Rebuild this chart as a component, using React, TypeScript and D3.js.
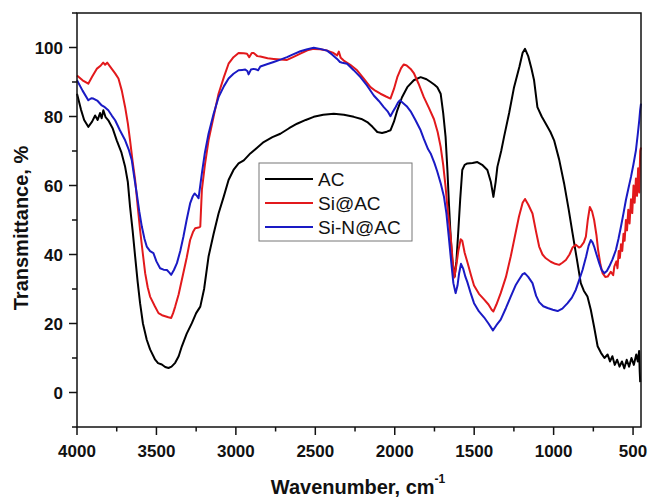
import React from "react";
import * as d3 from "d3";

// FTIR spectra, [wavenumber cm-1, transmittance %]
const acData: [number, number][] = [
  [4000, 86.6], [3975, 82], [3955, 79], [3929, 77], [3905, 78.5], [3886, 80.3], [3870, 79], [3855, 81],
  [3845, 79.5], [3834, 81.8], [3820, 79.8], [3803, 78.9], [3775, 76.5], [3750, 73.1], [3720, 69.5],
  [3697, 65.4], [3680, 61], [3666, 53.8], [3650, 47], [3634, 39.4], [3618, 32], [3603, 25.9], [3585, 20],
  [3561, 15.3], [3540, 12.5], [3508, 9.5], [3490, 8.5], [3466, 8.1], [3445, 7.4], [3424, 7.1], [3405, 7.5],
  [3382, 8.6], [3360, 10.5], [3340, 13.4], [3310, 17], [3277, 20.1], [3250, 23], [3224, 24.9], [3200, 30],
  [3172, 39.4], [3140, 46], [3109, 51.9], [3075, 57], [3046, 61.6], [3015, 64.5], [2983, 66.4],
  [2950, 67.3], [2909, 69.3], [2870, 70.8], [2825, 72.6], [2770, 74], [2720, 75], [2665, 76.6],
  [2615, 77.9], [2560, 79], [2510, 79.9], [2450, 80.5], [2384, 80.8], [2320, 80.5], [2258, 79.9],
  [2210, 79.3], [2173, 78.4], [2140, 77], [2110, 75.5], [2080, 75.2], [2050, 75.6], [2027, 76],
  [2005, 78.5], [1984, 81.8], [1955, 85.5], [1921, 88.5], [1880, 90.5], [1837, 91.4], [1800, 90.8],
  [1774, 90], [1750, 89.2], [1732, 88.5], [1711, 86.6], [1695, 81], [1680, 74.1], [1668, 64], [1659, 54.8],
  [1648, 45], [1638, 38.4], [1623, 33.6], [1612, 38], [1602, 45.2], [1588, 56], [1575, 64.5],
  [1560, 66], [1543, 66.4], [1510, 66.5], [1480, 66.8], [1450, 66], [1417, 64.5], [1395, 61],
  [1379, 56.7], [1365, 61], [1354, 65.4], [1330, 70], [1312, 74.1], [1280, 81], [1249, 88.5],
  [1215, 94.5], [1195, 98.5], [1180, 99.6], [1160, 97.5], [1140, 94], [1123, 90.5], [1102, 82.7],
  [1075, 80], [1050, 78], [1020, 75.5], [997, 73.1], [965, 67.5], [934, 60.6], [905, 53], [881, 46.2],
  [855, 39], [829, 31.7], [810, 29.5], [787, 27.8], [766, 24], [745, 19], [723, 13.4], [702, 11.5],
  [680, 10], [660, 11], [645, 9], [630, 10.5], [615, 8], [600, 9.5], [585, 7.5], [570, 9], [555, 7],
  [540, 9.5], [525, 7.5], [510, 10], [495, 8], [480, 11], [470, 9], [462, 12], [458, 6], [455, 3],
];

const siAcData: [number, number][] = [
  [4000, 91.9], [3965, 90.5], [3929, 89.5], [3905, 91.5], [3876, 93.8], [3850, 94.8], [3835, 95.6],
  [3823, 95], [3810, 95.6], [3781, 93.8], [3760, 92.5], [3739, 91], [3718, 87.5], [3697, 82.7],
  [3680, 78], [3666, 73.1], [3650, 67], [3634, 61.6], [3618, 54], [3603, 47.1], [3585, 40],
  [3571, 34.6], [3555, 30.5], [3540, 27.8], [3510, 25], [3487, 23], [3465, 22.4], [3445, 22.1],
  [3425, 21.8], [3407, 21.6], [3395, 23], [3382, 24.9], [3360, 28.5], [3340, 32.7], [3310, 39],
  [3288, 44.2], [3270, 46.5], [3256, 47.6], [3235, 47.8], [3224, 48.1], [3214, 58.7], [3195, 66],
  [3172, 73.1], [3140, 80], [3109, 86.6], [3075, 91.5], [3046, 95.3], [3015, 97.2], [2983, 98.4],
  [2950, 98.3], [2930, 98.2], [2916, 97.2], [2900, 98.4], [2888, 98.4], [2865, 97.5], [2846, 97.4],
  [2800, 96.9], [2762, 96.7], [2720, 96.5], [2678, 96.4], [2640, 97.2], [2594, 98.2], [2550, 99.2],
  [2510, 99.6], [2470, 99.5], [2426, 99.1], [2390, 98.5], [2363, 97.7], [2352, 98.8], [2340, 97],
  [2321, 96.2], [2280, 95], [2237, 93.4], [2195, 91], [2153, 88.5], [2120, 87.4], [2090, 86.6],
  [2055, 85.8], [2027, 85.2], [2005, 88], [1984, 91.4], [1960, 94], [1943, 95.1], [1925, 94.8],
  [1900, 93.8], [1880, 92.6], [1850, 89.5], [1817, 85.6], [1785, 82.5], [1753, 79.2], [1730, 75.5],
  [1711, 71.2], [1695, 66], [1680, 59.6], [1665, 52], [1648, 45.2], [1635, 38], [1625, 33.3],
  [1612, 37], [1600, 41], [1585, 44.4], [1575, 44], [1560, 40.5], [1543, 37.8], [1520, 34], [1501, 31],
  [1470, 28.6], [1438, 27], [1410, 25.5], [1390, 24], [1379, 23.5], [1360, 25.5], [1333, 28.8],
  [1300, 33.5], [1270, 39.4], [1245, 45], [1218, 51], [1195, 55], [1180, 56.1], [1160, 54.5],
  [1133, 51.9], [1110, 46.5], [1091, 42.3], [1070, 40], [1049, 38.9], [1018, 37.9], [990, 37.3],
  [965, 37], [945, 37.6], [923, 38.4], [900, 40], [881, 42], [860, 42.8], [840, 42], [829, 42.3],
  [810, 43.5], [797, 45.2], [785, 50], [772, 53.8], [758, 52.5], [745, 50], [730, 45.5], [720, 41.3],
  [705, 37], [692, 34.6], [675, 33.5], [660, 33.6], [640, 35], [625, 34], [618, 36.5], [605, 38],
  [598, 36], [590, 41], [583, 39], [576, 43], [568, 41], [560, 46], [553, 44], [545, 50], [538, 47],
  [530, 53], [522, 49], [513, 56], [505, 52], [497, 60], [490, 55], [482, 62], [475, 57], [468, 65],
  [461, 58], [455, 70], [450, 71],
];

const siNAcData: [number, number][] = [
  [4000, 90.5], [3965, 87.5], [3929, 84.7], [3910, 85.3], [3897, 85.2], [3870, 84.5], [3844, 83.2],
  [3825, 82.7], [3803, 81.8], [3780, 80.2], [3760, 78.9], [3730, 76], [3697, 73.1], [3675, 70.5],
  [3655, 67.3], [3640, 62.5], [3624, 57.7], [3608, 52.5], [3592, 48.1], [3575, 44.5], [3561, 42.3],
  [3540, 41], [3519, 40.4], [3500, 38], [3477, 36], [3455, 35.6], [3434, 35.5], [3420, 34.8],
  [3407, 34.1], [3390, 35.5], [3371, 37.5], [3350, 41], [3330, 45.2], [3310, 50], [3288, 54.8],
  [3272, 56.8], [3260, 57.7], [3245, 57], [3235, 56.3], [3214, 63.5], [3195, 69.5], [3172, 75],
  [3140, 80.8], [3109, 85.6], [3075, 88.8], [3046, 91], [3015, 92.4], [2983, 93.4], [2960, 93.5],
  [2941, 93.6], [2928, 93.2], [2920, 92.2], [2905, 93.6], [2888, 93.8], [2870, 93.6], [2860, 93.4],
  [2846, 94.5], [2800, 95.2], [2762, 95.8], [2720, 96.5], [2678, 97.2], [2640, 98], [2594, 98.9],
  [2550, 99.5], [2510, 99.9], [2470, 99.6], [2426, 99.1], [2395, 98], [2363, 96.7], [2345, 95.8],
  [2330, 95.6], [2300, 95.3], [2260, 93.5], [2216, 91.4], [2175, 89], [2132, 86.1], [2100, 84.5],
  [2069, 82.7], [2045, 81.5], [2027, 80.1], [2010, 81.5], [1995, 82.7], [1980, 84], [1968, 84.7],
  [1950, 84], [1925, 83], [1900, 81.5], [1870, 79], [1837, 76], [1817, 73.5], [1790, 70.5],
  [1774, 69.3], [1750, 66.5], [1732, 64], [1710, 60.5], [1690, 56.7], [1675, 52], [1660, 45.2],
  [1645, 38], [1631, 31.7], [1617, 28.8], [1605, 31], [1595, 34.5], [1583, 37.3], [1570, 36],
  [1555, 33.5], [1543, 32], [1520, 28.5], [1501, 25.9], [1470, 23.5], [1438, 21.8], [1410, 20],
  [1382, 18], [1360, 19.5], [1333, 21.1], [1300, 24.5], [1270, 27.8], [1240, 31], [1218, 32.7],
  [1195, 34.3], [1182, 34.6], [1160, 33.5], [1133, 31.7], [1110, 28], [1091, 26.2], [1065, 25],
  [1038, 24.5], [1005, 24], [975, 23.6], [945, 24.3], [912, 25.9], [885, 27.5], [860, 29.8],
  [840, 32.5], [818, 35.5], [795, 39.5], [780, 42.5], [766, 44.2], [755, 43.5], [745, 42.3],
  [730, 40], [713, 37.5], [698, 35.5], [681, 34.6], [665, 35.2], [650, 36.5], [630, 38.5],
  [608, 41.3], [592, 44.5], [576, 48.1], [560, 52], [545, 55.8], [530, 59], [513, 62.5], [498, 66],
  [482, 70.2], [470, 75], [461, 78.9], [455, 82], [450, 83.7],
];

const series = [
  { name: "AC", color: "#000000", data: acData },
  { name: "Si@AC", color: "#e2191c", data: siAcData },
  { name: "Si-N@AC", color: "#1a1ac4", data: siNAcData },
];

const xMajor = [4000, 3500, 3000, 2500, 2000, 1500, 1000, 500];
const xMinor = [3750, 3250, 2750, 2250, 1750, 1250, 750];
const yMajor = [0, 20, 40, 60, 80, 100];
const yMinor = [-10, 10, 30, 50, 70, 90, 110];

const App = () => {
  const width = 649;
  const height = 497;
  const left = 77;
  const right = 641;
  const top = 13;
  const bottom = 427;

  const x = d3.scaleLinear().domain([4000, 450]).range([left, right]);
  const y = d3.scaleLinear().domain([-10, 110]).range([bottom, top]);

  const line = d3
    .line<[number, number]>()
    .x((d) => x(d[0]))
    .y((d) => y(d[1]))
    .curve(d3.curveLinear);

  const font = "'Liberation Sans', Arial, sans-serif";

  return (
    <svg
      width={width}
      height={height}
      style={{ position: "absolute", left: 0, top: 0, background: "#fff" }}
      fontFamily={font}
    >
      {/* curves */}
      <g fill="none" strokeWidth={2} strokeLinejoin="round">
        {series.map((s) => (
          <path key={s.name} d={line(s.data) || ""} stroke={s.color} />
        ))}
      </g>

      {/* frame */}
      <rect
        x={left}
        y={top}
        width={right - left}
        height={bottom - top}
        fill="none"
        stroke="#111"
        strokeWidth={1.5}
      />

      {/* x ticks */}
      {xMajor.map((t) => (
        <g key={"xM" + t}>
          <line x1={x(t)} x2={x(t)} y1={bottom} y2={bottom + 8} stroke="#111" strokeWidth={1.5} />
          <text x={x(t)} y={457} textAnchor="middle" fontSize={17} fontWeight="bold" fill="#111">
            {t}
          </text>
        </g>
      ))}
      {xMinor.map((t) => (
        <line key={"xm" + t} x1={x(t)} x2={x(t)} y1={bottom} y2={bottom + 4.5} stroke="#111" strokeWidth={1.5} />
      ))}

      {/* y ticks */}
      {yMajor.map((t) => (
        <g key={"yM" + t}>
          <line x1={left - 8} x2={left} y1={y(t)} y2={y(t)} stroke="#111" strokeWidth={1.5} />
          <text x={63} y={y(t) + 6} textAnchor="end" fontSize={17} fontWeight="bold" fill="#111">
            {t}
          </text>
        </g>
      ))}
      {yMinor.map((t) => (
        <line key={"ym" + t} x1={left - 5} x2={left} y1={y(t)} y2={y(t)} stroke="#111" strokeWidth={1.5} />
      ))}

      {/* axis titles */}
      <text x={(left + right) / 2 - 1} y={494} textAnchor="middle" fontSize={20} fontWeight="bold" fill="#111">
        Wavenumber, cm
        <tspan fontSize={12} dy={-11}>-1</tspan>
      </text>
      <text
        transform={"translate(28, 228) rotate(-90)"}
        textAnchor="middle"
        fontSize={20}
        fontWeight="bold"
        fill="#111"
      >
        Transmittance, %
      </text>

      {/* legend */}
      <g>
        <rect x={259} y={163} width={153} height={78} fill="#fff" stroke="#777" strokeWidth={1} />
        {series.map((s, i) => (
          <g key={"lg" + s.name} transform={`translate(0, ${179 + i * 24})`}>
            <line x1={265} x2={313} y1={0} y2={0} stroke={s.color} strokeWidth={2} />
            <text x={318} y={7} fontSize={19} fill="#111">
              {s.name}
            </text>
          </g>
        ))}
      </g>
    </svg>
  );
};

export default App;
